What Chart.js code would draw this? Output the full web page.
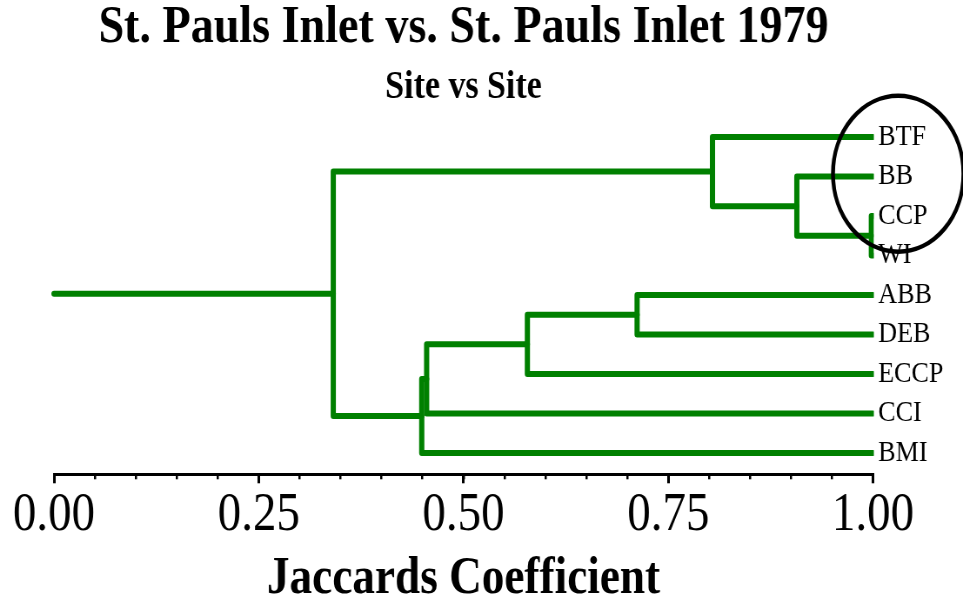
<!DOCTYPE html>
<html>
<head>
<meta charset="utf-8">
<script src="https://cdn.jsdelivr.net/npm/chart.js@4/dist/chart.umd.min.js"></script>
<style>
html, body { margin: 0; padding: 0; overflow: hidden; background: #fff; width: 963px; height: 606px; }
#wrap { position: absolute; left: 0; top: 0; width: 1107px; height: 606px; transform: scaleX(0.869919); transform-origin: 0 0; }
</style>
</head>
<body>
<div id="wrap"><canvas id="c"></canvas></div>
<script>
// ---- data ----
const titleText = 'St. Pauls Inlet vs. St. Pauls Inlet 1979';
const subtitleText = 'Site vs Site';
const axisTitle = 'Jaccards Coefficient';
const leaves = ['BTF', 'BB', 'CCP', 'WI', 'ABB', 'DEB', 'ECCP', 'CCI', 'BMI'];
// hclust-style merge table: negative = leaf (1-based), positive = earlier merge step (1-based)
const mergeA = [-3, -2, -1, -5, 4, 5, 6, 3];
const mergeB = [-4,  1,  2, -6, -7, -8, -9, 7];
const mergeHeight = [0.998, 0.907, 0.804, 0.712, 0.578, 0.455, 0.449, 0.341];
const leafHeight = 1.0;
const rootHeight = 0.0;
const xTickValues = [0, 0.25, 0.5, 0.75, 1];

// ---- build dendrogram segments ----
const nodes = [];
function nodeOf(ref) { return ref < 0 ? { x: leafHeight, y: -ref - 1 } : nodes[ref - 1]; }
const datasets = [];
mergeHeight.forEach((h, k) => {
  const a = nodeOf(mergeA[k]), b = nodeOf(mergeB[k]);
  datasets.push({ data: [{ x: a.x, y: a.y }, { x: h, y: a.y }, { x: h, y: b.y }, { x: b.x, y: b.y }] });
  nodes.push({ x: h, y: (a.y + b.y) / 2 });
});
const rootNode = nodes[nodes.length - 1];
datasets.push({ data: [{ x: rootHeight, y: rootNode.y }, { x: rootNode.x, y: rootNode.y }] });
datasets.forEach(d => Object.assign(d, {
  showLine: true, pointRadius: 0, borderColor: '#008000', borderWidth: 6,
  borderJoinStyle: 'round', borderCapStyle: 'round', tension: 0, fill: false,
  clip: { left: 10, top: 10, right: 1, bottom: 10 }
}));

const ellipsePlugin = {
  id: 'ellipseNote',
  afterDraw(chart, args, o) {
    const { ctx, scales } = chart;
    const cx = scales.x.getPixelForValue(o.xValue) + o.dx;
    const cy = scales.y.getPixelForValue(o.yValue);
    ctx.save();
    ctx.beginPath();
    ctx.ellipse(cx, cy, o.rx, o.ry, 0, 0, Math.PI * 2);
    ctx.lineWidth = o.width;
    ctx.strokeStyle = o.color;
    ctx.stroke();
    ctx.restore();
  }
};

Chart.defaults.font.family = 'Liberation Serif';
Chart.defaults.color = '#000';

new Chart(document.getElementById('c'), {
  type: 'scatter',
  data: { datasets },
  plugins: [ellipsePlugin],
  options: {
    responsive: true,
    maintainAspectRatio: false,
    animation: false,
    layout: { padding: { left: 62.07, right: 0, top: 0, bottom: 0 } },
    plugins: {
      legend: { display: false },
      tooltip: { enabled: false },
      title: {
        display: true, text: titleText, fullSize: false, color: '#000',
        font: { family: 'Liberation Serif', size: 53, weight: 'bold', lineHeight: 1 },
        padding: { top: 2.3, bottom: 0 }
      },
      subtitle: {
        display: true, text: subtitleText, fullSize: false, color: '#000',
        font: { family: 'Liberation Serif', size: 39, weight: 'bold', lineHeight: 1 },
        padding: { top: 13, bottom: 8 }
      },
      ellipseNote: { xValue: 1, dx: 29, yValue: 0.93, rx: 75, ry: 78, width: 4.5, color: '#000' }
    },
    scales: {
      x: {
        type: 'linear', position: 'bottom', min: 0, max: 1, weight: 0,
        afterBuildTicks: s => { s.ticks = xTickValues.map(v => ({ value: v })); },
        ticks: {
          callback: v => Number(v).toFixed(2),
          font: { family: 'Liberation Serif', size: 54 }, color: '#000',
          padding: 0, maxRotation: 0, autoSkip: false
        },
        grid: { drawOnChartArea: false, drawTicks: true, tickLength: 9, color: '#000', lineWidth: 3 },
        border: { display: true, color: '#000', width: 3 },
        title: {
          display: true, text: axisTitle, color: '#000',
          font: { family: 'Liberation Serif', size: 52, weight: 'bold', lineHeight: 1 },
          padding: { top: 0, bottom: 0 }
        },
        afterFit: s => { s.height = 131.7; }
      },
      xMinor: {
        type: 'linear', position: 'bottom', min: 0, max: 1, weight: -1,
        ticks: { display: false, stepSize: 0.05, maxTicksLimit: 100 },
        grid: { drawOnChartArea: false, drawTicks: true, tickLength: 5, color: '#000', lineWidth: 2.5 },
        border: { display: false },
        afterFit: s => { s.height = 0; }
      },
      y: {
        type: 'linear', position: 'right', reverse: true, min: -0.55, max: 8.54,
        afterBuildTicks: s => { s.ticks = leaves.map((_, i) => ({ value: i })); },
        ticks: {
          callback: (v, i) => leaves[i],
          font: { family: 'Liberation Serif', size: 30 }, color: '#000',
          padding: 6, autoSkip: false
        },
        grid: { display: false, drawTicks: false },
        border: { display: false },
        afterFit: s => { s.width = 103.5; }
      }
    }
  }
});
</script>
</body>
</html>
